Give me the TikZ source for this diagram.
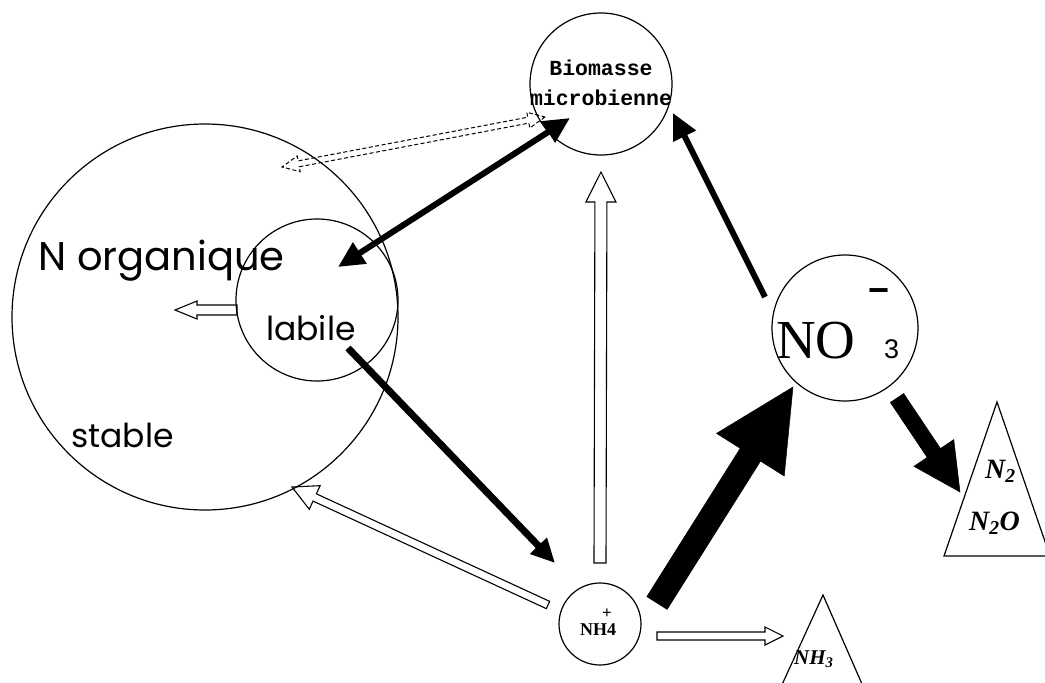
\documentclass[tikz,border=0pt]{standalone}
\usepackage{fontspec}
\setmainfont{Liberation Serif}
\newfontfamily\geo{Poppins}
\newfontfamily\tw{Liberation Mono}
\newfontfamily\lsans{Liberation Sans}
\usetikzlibrary{calc,arrows.meta}

% outlined / filled block arrow: style, A, B, half shaft, half head, head length
\newcommand\blockarrow[6]{%
  \coordinate (baH) at ($(#3)!#6!(#2)$);
  \draw[#1] ($(#2)!#4!90:(#3)$) -- ($(baH)!#4!90:(#3)$) -- ($(baH)!#5!90:(#3)$) -- (#3)
     -- ($(baH)!#5!-90:(#3)$) -- ($(baH)!#4!-90:(#3)$) -- ($(#2)!#4!-90:(#3)$) -- cycle;
}
% double-headed block arrow: style, A, B, half shaft, half head, head length
\newcommand\blockdarrow[6]{%
  \coordinate (bdH) at ($(#2)!#6!(#3)$);
  \coordinate (bdK) at ($(#3)!#6!(#2)$);
  \draw[#1] (#2) -- ($(bdH)!#5!90:(#3)$) -- ($(bdH)!#4!90:(#3)$) -- ($(bdK)!#4!-90:(#2)$)
     -- ($(bdK)!#5!-90:(#2)$) -- (#3) -- ($(bdK)!#5!90:(#2)$) -- ($(bdK)!#4!90:(#2)$)
     -- ($(bdH)!#4!-90:(#3)$) -- ($(bdH)!#5!-90:(#3)$) -- cycle;
}

\tikzset{
  pool/.style={circle, draw, line width=1.2pt, inner sep=0pt},
  sink/.style={draw, line width=1.2pt, line join=miter},
  blk/.style={line width=6pt, -{Triangle[length=26pt,width=24pt]}},
  blkd/.style={line width=6pt, {Triangle[length=26pt,width=24pt]}-{Triangle[length=26pt,width=24pt]}},
  hollow/.style={draw, line width=1.1pt, line join=miter},
  solidfat/.style={fill=black, draw=black, line width=0.5pt, line join=miter},
  dashhollow/.style={draw, line width=1pt, dash pattern=on 4pt off 2.5pt},
}

\begin{document}
\begin{tikzpicture}[x=1pt,y=-1pt]
\useasboundingbox (0,0) rectangle (1045,683);
\clip (0,0) rectangle (1045,683);

% pools
\node[pool, minimum size=386pt] (org) at (205,317) {};
\node[pool, minimum size=162pt] (lab) at (317,300) {};
\node[pool, minimum size=142pt] (bio) at (601,84) {};
\node[pool, minimum size=146pt] (no3) at (845,328) {};
\node[pool, minimum size=82pt] (nh4) at (600,624) {};

% sinks (triangles)
\coordinate (n2top) at (997,402);
\draw[sink] (n2top) -- (944,556) -- (1050,556) -- cycle;
\coordinate (nh3top) at (823,595);
\draw[sink] (nh3top) -- (775,700) -- (869,700) -- cycle;

% texts
\node[anchor=base west, inner sep=0pt, font=\geo\fontsize{40}{40}\selectfont] (torg) at (38,270) {N organique};
\node[anchor=base west, inner sep=0pt, font=\geo\fontsize{33}{33}\selectfont] (tlab) at (266,340) {labile};
\node[anchor=base west, inner sep=0pt, font=\geo\fontsize{33}{33}\selectfont] (tsta) at (71,447) {stable};
\node[anchor=base, inner sep=0pt, font=\tw\bfseries\fontsize{21.5}{21.5}\selectfont] (tbio1) at (601,75) {Biomasse};
\node[anchor=base, inner sep=0pt, font=\tw\bfseries\fontsize{21.5}{21.5}\selectfont] (tbio2) at (601,105) {microbienne};
\node[anchor=base west, inner sep=0pt, font=\fontsize{55}{55}\selectfont] (tno) at (776,358) {NO};
\node[anchor=base west, inner sep=0pt, font=\lsans\fontsize{27}{27}\selectfont] (t3) at (884,358) {3};
\node[anchor=center, inner sep=0pt, font=\lsans\bfseries\fontsize{36}{36}\selectfont] (tminus) at (879,296) {−};
\node[anchor=base, inner sep=0pt, font=\bfseries\fontsize{18}{18}\selectfont] (tnh4) at (598,635) {NH4};
\node[anchor=center, inner sep=0pt, font=\bfseries\fontsize{17}{17}\selectfont] (tplus) at (607,614) {+};
\node[anchor=base west, inner sep=0pt, font=\bfseries\itshape\fontsize{28}{28}\selectfont] (tn2) at (985,478) {N\textsubscript{2}};
\node[anchor=base west, inner sep=0pt, font=\bfseries\itshape\fontsize{28}{28}\selectfont] (tn2o) at (969,530) {N\textsubscript{2}O};
\node[anchor=base west, inner sep=0pt, font=\bfseries\itshape\fontsize{21}{21}\selectfont] (tnh3) at (794,664) {NH\textsubscript{3}};

% connector end points (relative to the named pools)
\coordinate (dA) at ($(bio)+(-56,33)$);
\coordinate (dB) at ($(org)+(77,-150)$);
\coordinate (k1) at ($(bio)+(-31,34)$);
\coordinate (k2) at ($(lab)+(21,-33)$);
\coordinate (m1) at ($(no3)+(-80,-31)$);
\coordinate (m2) at ($(bio)+(72,29)$);
\coordinate (l1) at ($(lab)+(31,48)$);
\coordinate (l2) at ($(nh4)+(-45,-61)$);
\coordinate (f1) at ($(nh4)+(57,-21)$);
\coordinate (f2) at ($(no3)+(-52,59)$);
\coordinate (g1) at ($(no3)+(52,70)$);
\coordinate (g2) at ($(n2top)+(-37,90)$);
\coordinate (o1) at ($(nh4)+(-52,-19)$);
\coordinate (o2) at ($(org)+(87,170)$);
\coordinate (v1) at ($(nh4)+(0,-61)$);
\coordinate (v2) at ($(bio)+(0,88)$);
\coordinate (h1) at ($(nh4)+(57,12)$);
\coordinate (h2) at ($(nh3top)+(-40,41)$);
\coordinate (i1) at ($(lab)+(-80,10)$);
\coordinate (i2) at ($(org)+(-30,-7)$);

% dashed hollow arrow biomasse -> organic N
\blockdarrow{dashhollow}{dA}{dB}{3pt}{8pt}{17pt}
% black arrows
\draw[blkd] (k1) -- (k2);
\draw[blk] (m1) -- (m2);
\draw[line width=7pt, -{Triangle[length=24pt,width=22pt]}] (l1) -- (l2);
\blockarrow{solidfat}{f1}{f2}{12pt}{40pt}{80pt}
\blockarrow{solidfat}{g1}{g2}{8pt}{24pt}{47pt}
% hollow arrows
\blockarrow{hollow}{o1}{o2}{4pt}{13pt}{25pt}
\blockarrow{hollow}{v1}{v2}{6pt}{15pt}{30pt}
\blockarrow{hollow}{h1}{h2}{4pt}{9pt}{18pt}
\blockarrow{hollow}{i1}{i2}{5pt}{9pt}{22pt}
\end{tikzpicture}
\end{document}
